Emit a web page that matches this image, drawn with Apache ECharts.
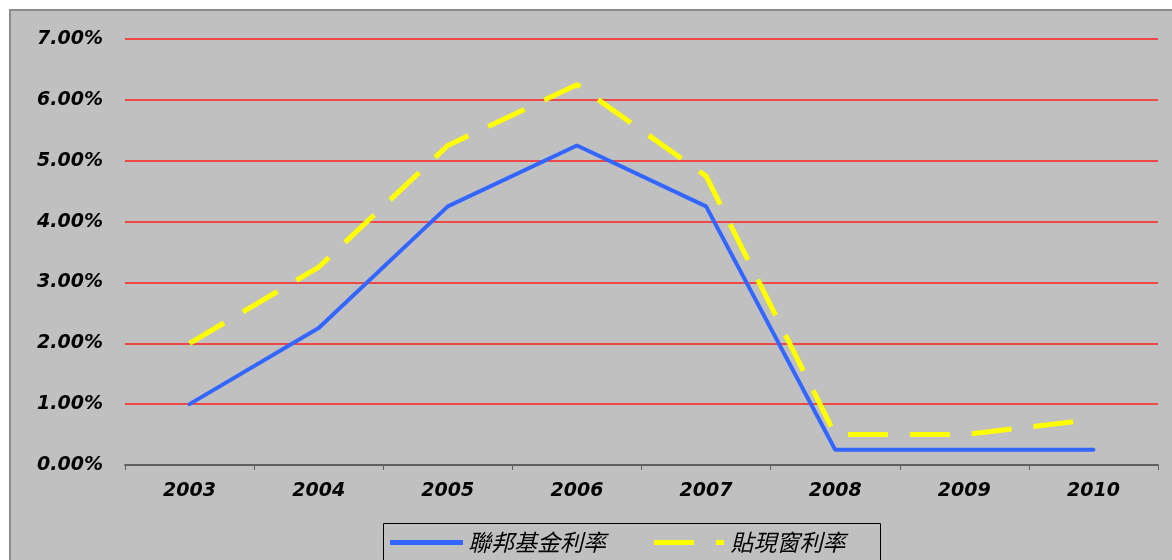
<!DOCTYPE html>
<html>
<head>
<meta charset="utf-8">
<script src="https://cdn.jsdelivr.net/npm/echarts@6/dist/echarts.min.js"></script>
<style>html,body{margin:0;padding:0;background:#fff}#c{width:1172px;height:560px}</style>
</head>
<body>
<div id="c"></div>
<script>
var categories = ['2003','2004','2005','2006','2007','2008','2009','2010'];
var fedFunds = [1.00, 2.25, 4.25, 5.25, 4.25, 0.25, 0.25, 0.25];
var discount = [2.00, 3.25, 5.25, 6.25, 4.75, 0.50, 0.50, 0.75];
var seriesNames = ['聯邦基金利率', '貼現窗利率'];

var chart = echarts.init(document.getElementById('c'));
var labelFont = {fontFamily: '"DejaVu Sans", sans-serif', fontWeight: 'bold', fontStyle: 'italic', fontSize: 19, color: '#000'};
chart.setOption({
  backgroundColor: '#fff',
  animation: false,
  graphic: [{
    type: 'rect', z: -10, silent: true,
    shape: {x: 10, y: 10, width: 1200, height: 600},
    style: {fill: '#C0C0C0', stroke: '#8c8c8c', lineWidth: 2}
  }, {
    type: 'rect', z: 5, silent: true,
    shape: {x: 383.5, y: 523.5, width: 497, height: 60},
    style: {fill: 'none', stroke: '#000', lineWidth: 1}
  }],
  grid: {left: 125, right: 14, top: 39, bottom: 95, containLabel: false},
  xAxis: {
    type: 'category', data: categories, boundaryGap: true,
    axisLine: {lineStyle: {color: '#606060', width: 2}},
    axisTick: {show: true, length: 5, lineStyle: {color: '#606060', width: 1}},
    axisLabel: Object.assign({margin: 17}, labelFont),
    splitLine: {show: false}
  },
  yAxis: {
    type: 'value', min: 0, max: 7, interval: 1,
    axisLine: {show: false}, axisTick: {show: false},
    axisLabel: Object.assign({margin: 22, formatter: function(v){return v.toFixed(2) + '%';}}, labelFont),
    splitLine: {lineStyle: {color: '#FF2020', width: 1.5}}
  },
  legend: {
    left: 390, top: 531, itemGap: 48, padding: 0,
    itemWidth: 73, itemHeight: 5,
    textStyle: {fontFamily: '"Noto Sans CJK TC", sans-serif', fontStyle: 'italic', fontSize: 23, color: '#000', padding: [2, 0, 0, 0]},
    data: [
      {name: seriesNames[0], icon: 'path://M0,0H73V5H0Z', itemStyle: {borderWidth: 0}},
      {name: seriesNames[1], icon: 'path://M0,0H40V5H0Z M62,0H70V5H62Z', itemStyle: {borderWidth: 0}}
    ]
  },
  series: [
    {name: seriesNames[0], type: 'line', data: fedFunds, symbol: 'none',
     lineStyle: {color: '#3366FF', width: 4, cap: 'round'}, itemStyle: {color: '#3366FF'}},
    {name: seriesNames[1], type: 'line', data: discount, symbol: 'none',
     lineStyle: {color: '#FFFF00', width: 5, type: [40, 22]}, itemStyle: {color: '#FFFF00'}}
  ]
});
</script>
</body>
</html>
